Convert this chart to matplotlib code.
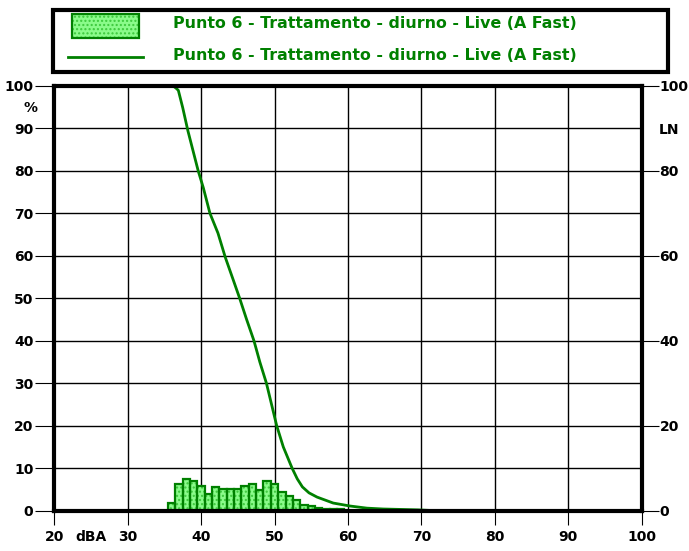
import numpy as np
import matplotlib
matplotlib.use("Agg")
import matplotlib.pyplot as plt
from matplotlib.patches import Rectangle
from matplotlib.lines import Line2D

# histogram (% per 1 dB class)
hist_db = [36, 37, 38, 39, 40, 41, 42, 43, 44, 45, 46, 47,
           48, 49, 50, 51, 52, 53, 54, 55, 56, 57, 58, 59]
hist_pct = [1.7, 6.3, 7.4, 7.0, 5.8, 4.0, 5.5, 5.2, 5.0, 5.2, 5.8, 6.2,
            4.9, 7.1, 6.2, 4.4, 3.4, 2.6, 1.4, 1.0, 0.7, 0.4, 0.3, 0.4]

# cumulative LN curve
ln_db = [35, 35.8, 36.3, 36.6, 36.9, 37.5, 38.2, 38.9, 39.6, 40.3, 41.2, 42.3, 43.3, 44.4,
         45.25, 46.2, 47.2, 48.0, 48.9, 49.6, 50.3, 51.2, 52.4, 53.1, 53.8, 54.7, 55.8,
         58.0, 60.3, 62.6, 64.8, 69.5, 72, 100]
ln_val = [100, 100, 99.8, 99.4, 98.9, 94.8, 89.4, 84.7, 80, 76, 70, 65.3, 59.6, 54.2,
          50, 45, 40, 35, 30, 25, 20, 15, 10, 7.5, 5.6, 4.2, 3.2,
          1.8, 1.1, 0.6, 0.4, 0.2, 0, 0]

label = "Punto 6 - Trattamento - diurno - Live (A Fast)"
green = "#008000"
W, H = 689, 551

fig = plt.figure(figsize=(W / 100, H / 100), dpi=100)
ax = fig.add_axes([54.3 / W, 1 - 510.7 / H, (641.5 - 54.3) / W, (510.7 - 85.7) / H])

# bars: dotted fill first, then the outline
ax.bar(hist_db, hist_pct, width=1.0, color="#8afb8a", edgecolor="#3cc83c",
       hatch="....", linewidth=0, zorder=3)
ax.bar(hist_db, hist_pct, width=1.0, fill=False, edgecolor=green,
       linewidth=1.6, zorder=4)
ax.plot(ln_db, ln_val, color=green, lw=2, zorder=5)

ax.set_xlim(20, 100)
ax.set_ylim(0, 100)
ax.set_xticks(range(20, 101, 10))
ax.set_yticks(range(0, 101, 10))
ax.grid(True, color="black", lw=1)
ax.set_axisbelow(True)
for s in ax.spines.values():
    s.set_linewidth(3)
    s.set_zorder(6)

fs = 10
fnt = dict(fontsize=fs, fontweight="bold", family="DejaVu Sans")
ax.tick_params(axis="y", direction="out", length=14, width=0.8, pad=1)
ax.tick_params(axis="x", direction="out", length=10, width=0.8, pad=4)
for t in ax.get_xticklabels() + ax.get_yticklabels():
    t.set_fontsize(fs)
    t.set_fontweight("bold")

ax2 = ax.twinx()
ax2.set_ylim(0, 100)
ax2.set_yticks(range(0, 101, 20))
ax2.tick_params(axis="y", direction="out", length=12, width=0.8, pad=1)
for t in ax2.get_yticklabels():
    t.set_fontsize(fs)
    t.set_fontweight("bold")
for s in ax2.spines.values():
    s.set_visible(False)

fig.text(31 / W, 1 - 108 / H, "%", ha="center", va="center", **fnt)
fig.text(659 / W, 1 - 130 / H, "LN", ha="left", va="center", **fnt)
fig.text(91 / W, 1 - 537 / H, "dBA", ha="center", va="center", **fnt)

# legend box drawn in pixel positions of the figure
fig.add_artist(Rectangle((53 / W, 1 - 72 / H), 615 / W, 62 / H, transform=fig.transFigure,
                         fill=False, edgecolor="black", lw=3))
fig.add_artist(Rectangle((72 / W, 1 - 37.5 / H), 67 / W, 23.5 / H, transform=fig.transFigure,
                         facecolor="#8afb8a", edgecolor="#3cc83c", hatch="....", lw=0))
fig.add_artist(Rectangle((72 / W, 1 - 37.5 / H), 67 / W, 23.5 / H, transform=fig.transFigure,
                         fill=False, edgecolor=green, lw=1.6))
fig.add_artist(Line2D([68 / W, 143 / W], [1 - 56.5 / H, 1 - 56.5 / H],
                      transform=fig.transFigure, color=green, lw=2))
fig.text(173 / W, 1 - 24 / H, label, color=green, ha="left", va="center",
         fontsize=11.4, fontweight="bold")
fig.text(173 / W, 1 - 55 / H, label, color=green, ha="left", va="center",
         fontsize=11.4, fontweight="bold")

fig.savefig("out.png", dpi=100)
